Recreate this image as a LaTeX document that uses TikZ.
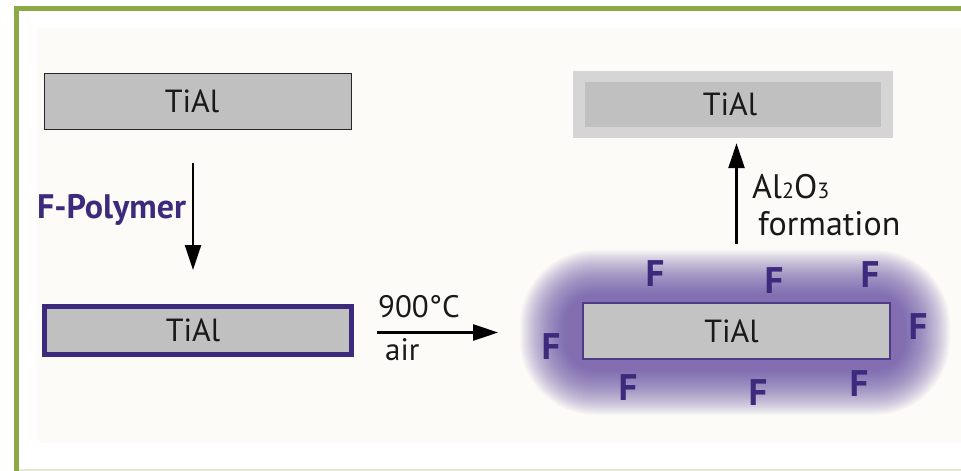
\documentclass[tikz,border=0pt]{standalone}
\usepackage{fontspec}
\setmainfont{PT Sans}
\usetikzlibrary{arrows.meta}

\definecolor{framegreen}{RGB}{139,170,69}
\definecolor{paper}{RGB}{252,251,247}
\definecolor{metal}{RGB}{192,192,192}
\definecolor{oxide}{RGB}{213,213,213}
\definecolor{fpurple}{RGB}{62,42,124}
\definecolor{rimpurple}{RGB}{76,60,134}
\definecolor{glowc}{RGB}{100,75,165}

\begin{document}
\begin{tikzpicture}[x=1pt,y=-1pt,
  tialbox/.style={rectangle, fill=metal, inner sep=0pt},
  tialtxt/.style={font=\fontsize{32}{32}\selectfont, text=black!90},
  lbl/.style={inner sep=0pt, font=\fontsize{31}{31}\selectfont, text=black!90},
  fatom/.style={inner sep=0pt, font=\fontsize{37}{37}\selectfont\bfseries, text=fpurple},
  arr/.style={line width=2.4pt, -{Triangle[length=25pt,width=16pt]}}]

% page and frame
\useasboundingbox (0,0) rectangle (961,471);
\fill[white] (0,0) rectangle (961,471);
\fill[paper] (37,28) rectangle (961,443);
\draw[framegreen, line width=5pt] (16.5,471) -- (16.5,8.5) -- (961,8.5);
\draw[framegreen!25, line width=1.5pt] (19,470) -- (961,470);

% bare TiAl
\node[tialbox, draw=black!85, line width=1.8pt, minimum width=307pt, minimum height=56pt,
      label={[tialtxt, xshift=-6pt]center:TiAl}] (bare) at (198,101.5) {};

% polymer-coated TiAl
\node[tialbox, draw=fpurple, line width=5pt, minimum width=307pt, minimum height=48pt,
      label={[tialtxt, xshift=-5pt]center:TiAl}] (coated) at (198,330.5) {};

% fluorine cloud around the heated sample: stacked translucent layers fade outwards
\foreach \i [evaluate=\i as \r using 30+\i] in {0,...,45}
  \fill[glowc, opacity=0.027, rounded corners=\r pt]
    (565-\i,295-\i) rectangle (905+\i,370+\i);

\node[tialbox, fill=metal!95!white, draw=rimpurple, line width=1.8pt, minimum width=307pt,
      minimum height=56pt, label={[tialtxt, xshift=-5pt]center:TiAl}] (heated) at (736.5,331) {};

\node[fatom] (f1) at (655,274) {F};
\node[fatom] (f2) at (774,281) {F};
\node[fatom] (f3) at (870,275) {F};
\node[fatom] (f4) at (918,327) {F};
\node[fatom] (f5) at (551,347) {F};
\node[fatom] (f6) at (628,388) {F};
\node[fatom] (f7) at (758,393) {F};
\node[fatom] (f8) at (859,384) {F};

% TiAl with alumina scale
\node[rectangle, fill=oxide, inner sep=0pt, minimum width=320pt, minimum height=67pt] (scale) at (733,104.5) {};
\node[tialbox, minimum width=296pt, minimum height=45pt,
      label={[tialtxt, xshift=-3pt]center:TiAl}] (core) at (733,104.5) {};

% process steps
\draw[arr, shorten <=33pt, shorten >=34pt] ([xshift=-5pt]bare.south) -- ([xshift=-5pt]coated.north);
\node[inner sep=0pt, anchor=base west, font=\fontsize{34}{34}\selectfont\bfseries, text=fpurple] (fpoly) at (37,218) {F-Polymer};

\draw[arr, shorten <=23pt, shorten >=84pt] ([yshift=-2pt]coated.east) -- ([yshift=-2pt]coated.east -| heated.west);
\node[lbl, anchor=base west] (temp) at (378,317) {900°C};
\node[lbl, anchor=base west] (atm) at (385,360) {air};

\draw[arr, shorten <=58pt, shorten >=5pt] (heated.north) -- (scale.south -| heated.north);
\node[lbl, anchor=base west, font=\fontsize{34}{34}\selectfont] (alox) at (752,198) {Al{\fontsize{22}{22}\selectfont 2}O{\fontsize{22}{22}\selectfont 3}};
\node[lbl, anchor=base west, font=\fontsize{34}{34}\selectfont] (form) at (758,235) {formation};
\end{tikzpicture}
\end{document}
